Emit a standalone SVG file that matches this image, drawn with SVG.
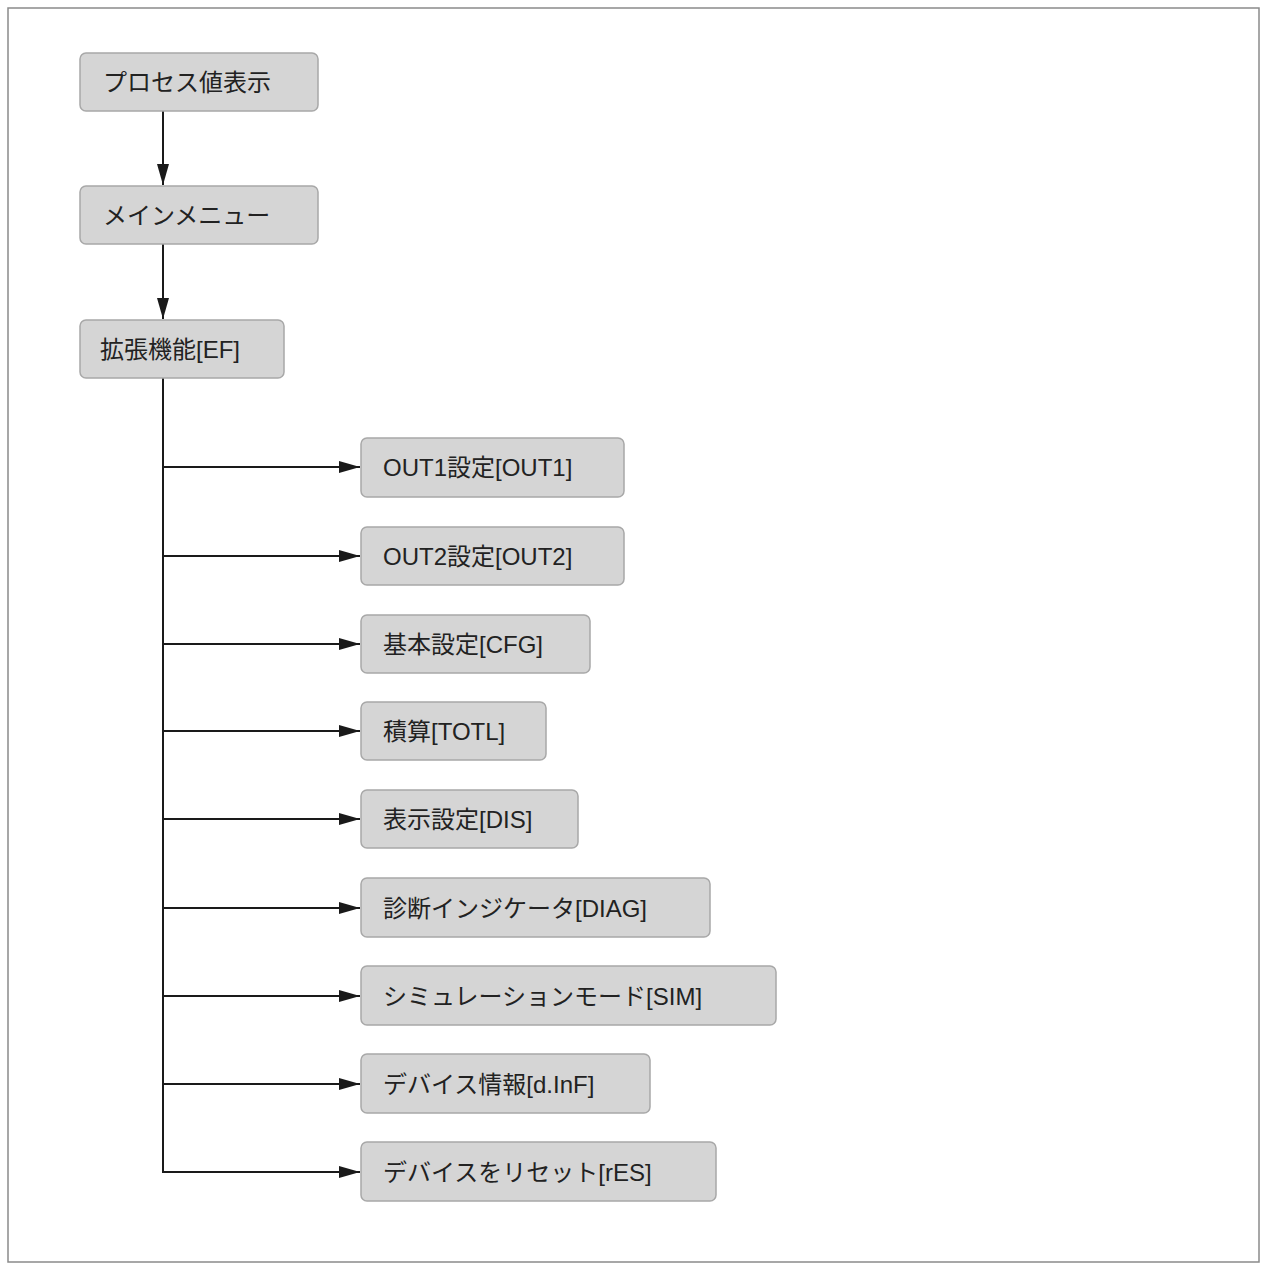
<svg xmlns="http://www.w3.org/2000/svg" width="1268" height="1271" viewBox="0 0 1268 1271">
<style>
.b{fill:#d5d5d5;stroke:#a8a8a8;stroke-width:1.5}
.t{font-family:"Liberation Sans","Noto Sans CJK JP",sans-serif;font-size:24px;fill:#222}
.c{stroke:#1a1a1a;stroke-width:2;fill:none}
</style>
<defs><marker id="a" markerUnits="userSpaceOnUse" markerWidth="22" markerHeight="12" refX="21" refY="6" orient="auto"><path d="M0,0 L21,6 L0,12 Z" fill="#1a1a1a"/></marker></defs>
<rect x="8" y="8" width="1251" height="1254" fill="#fff" stroke="#8a8a8a" stroke-width="1.5"/>
<g id="connectors">
<line class="c" x1="163" y1="111" x2="163" y2="185" marker-end="url(#a)"/>
<line class="c" x1="163" y1="244" x2="163" y2="319" marker-end="url(#a)"/>
<polyline class="c" points="163,378 163,1172 360,1172" marker-end="url(#a)"/>
<line class="c" x1="163" y1="467" x2="360" y2="467" marker-end="url(#a)"/>
<line class="c" x1="163" y1="556" x2="360" y2="556" marker-end="url(#a)"/>
<line class="c" x1="163" y1="644" x2="360" y2="644" marker-end="url(#a)"/>
<line class="c" x1="163" y1="731" x2="360" y2="731" marker-end="url(#a)"/>
<line class="c" x1="163" y1="819" x2="360" y2="819" marker-end="url(#a)"/>
<line class="c" x1="163" y1="908" x2="360" y2="908" marker-end="url(#a)"/>
<line class="c" x1="163" y1="996" x2="360" y2="996" marker-end="url(#a)"/>
<line class="c" x1="163" y1="1084" x2="360" y2="1084" marker-end="url(#a)"/>
</g>
<g id="n1"><rect class="b" x="80" y="53" width="238" height="58" rx="6"/><text class="t" x="103" y="91">プロセス値表示</text></g>
<g id="n2"><rect class="b" x="80" y="186" width="238" height="58" rx="6"/><text class="t" x="103" y="224">メインメニュー</text></g>
<g id="n3"><rect class="b" x="80" y="320" width="204" height="58" rx="6"/><text class="t" x="100" y="358">拡張機能[EF]</text></g>
<g id="c1"><rect class="b" x="361" y="438" width="263" height="59" rx="6"/><text class="t" x="383" y="476">OUT1設定[OUT1]</text></g>
<g id="c2"><rect class="b" x="361" y="527" width="263" height="58" rx="6"/><text class="t" x="383" y="565">OUT2設定[OUT2]</text></g>
<g id="c3"><rect class="b" x="361" y="615" width="229" height="58" rx="6"/><text class="t" x="383" y="653">基本設定[CFG]</text></g>
<g id="c4"><rect class="b" x="361" y="702" width="185" height="58" rx="6"/><text class="t" x="383" y="740">積算[TOTL]</text></g>
<g id="c5"><rect class="b" x="361" y="790" width="217" height="58" rx="6"/><text class="t" x="383" y="828">表示設定[DIS]</text></g>
<g id="c6"><rect class="b" x="361" y="878" width="349" height="59" rx="6"/><text class="t" x="383" y="917">診断インジケータ[DIAG]</text></g>
<g id="c7"><rect class="b" x="361" y="966" width="415" height="59" rx="6"/><text class="t" x="383" y="1005">シミュレーションモード[SIM]</text></g>
<g id="c8"><rect class="b" x="361" y="1054" width="289" height="59" rx="6"/><text class="t" x="383" y="1093">デバイス情報[d.InF]</text></g>
<g id="c9"><rect class="b" x="361" y="1142" width="355" height="59" rx="6"/><text class="t" x="383" y="1181">デバイスをリセット[rES]</text></g>
</svg>
